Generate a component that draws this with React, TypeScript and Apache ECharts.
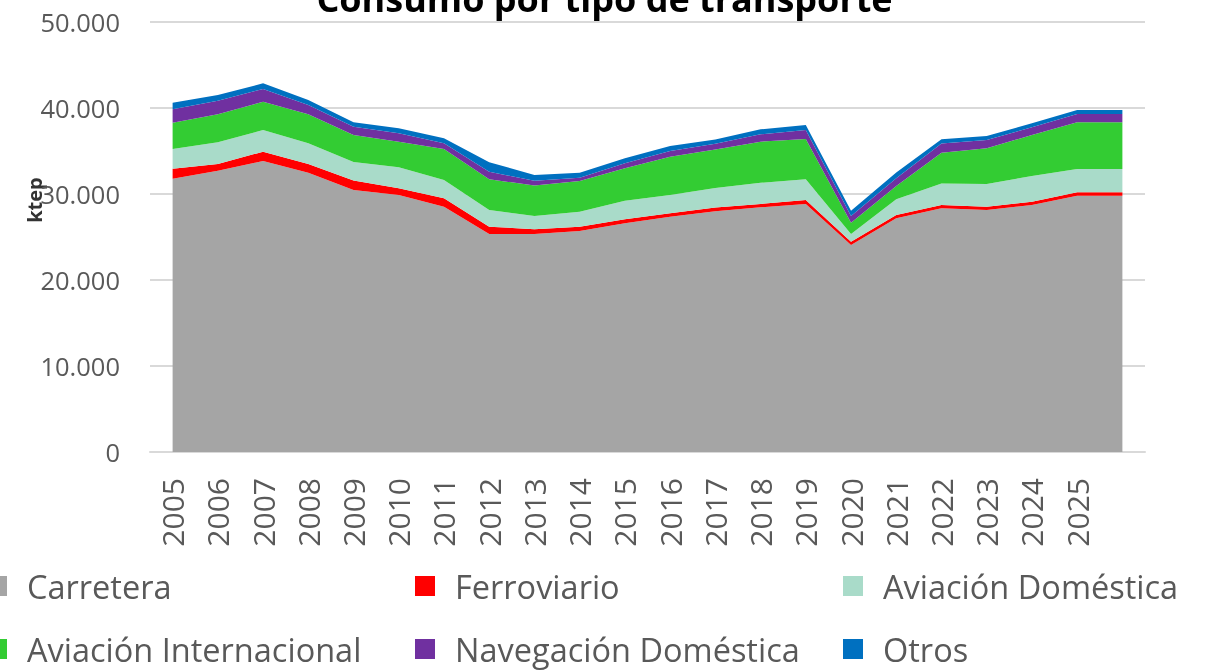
import React, { useEffect, useRef } from 'react';
import * as echarts from 'echarts';

const categories = ['2005', '2006', '2007', '2008', '2009', '2010', '2011', '2012', '2013', '2014', '2015', '2016', '2017', '2018', '2019', '2020', '2021', '2022', '2023', '2024', '2025', ''];

const carretera = [31780, 32710, 33840, 32480, 30470, 29880, 28520, 25350, 25350, 25700, 26590, 27360, 27990, 28450, 28840, 24070, 27170, 28340, 28140, 28720, 29800, 29800];
const ferroviario = [1160, 780, 1080, 1010, 1100, 780, 980, 850, 560, 500, 470, 400, 440, 390, 460, 380, 390, 380, 380, 380, 390, 390];
const aviacionDomestica = [2290, 2520, 2520, 2410, 2150, 2440, 2130, 1940, 1530, 1740, 2160, 2120, 2270, 2470, 2410, 900, 1820, 2500, 2640, 2990, 2710, 2710];
const aviacionInternacional = [3060, 3260, 3290, 3370, 3140, 2980, 3600, 3570, 3550, 3570, 3770, 4460, 4460, 4770, 4690, 1310, 1550, 3580, 4150, 4770, 5430, 5430];
const navegacionDomestica = [1560, 1580, 1480, 1080, 970, 980, 670, 880, 540, 390, 580, 660, 690, 860, 1040, 780, 900, 1070, 970, 900, 970, 970];
const otros = [770, 660, 660, 580, 510, 580, 580, 1100, 680, 580, 580, 580, 490, 580, 580, 620, 670, 490, 460, 470, 470, 470];

const seriesNames = ['Carretera', 'Ferroviario', 'Aviación Doméstica', 'Aviación Internacional', 'Navegación Doméstica', 'Otros'];
const seriesColors = ['#a5a5a5', '#ff0000', '#a9dbc9', '#33cc33', '#7030a0', '#0070c0'];
const seriesData = [carretera, ferroviario, aviacionDomestica, aviacionInternacional, navegacionDomestica, otros];

const yTicks = { min: 0, max: 50000, interval: 10000 };
const titleText = 'Consumo por tipo de transporte';
const yUnit = 'ktep';

export default function App() {
  const ref = useRef<HTMLDivElement>(null);
  useEffect(() => {
    const chart = echarts.init(ref.current!, null, { renderer: 'svg' });
    const font = "'Open Sans', sans-serif";
    const legendPos = [
      { left: -13, top: 568 },
      { left: 415, top: 568 },
      { left: 843, top: 568 },
      { left: -13, top: 631 },
      { left: 415, top: 631 },
      { left: 843, top: 631 },
    ];
    chart.setOption({
      animation: false,
      title: {
        text: titleText,
        left: 'center',
        top: -25,
        textStyle: { fontSize: 36, fontWeight: 'bold', color: '#000000', fontFamily: font },
      },
      grid: { left: 150, right: 64, top: 22, bottom: 218, containLabel: false },
      legend: seriesNames.map((n, k) => ({
        data: [n],
        left: legendPos[k].left,
        top: legendPos[k].top,
        padding: 0,
        itemWidth: 20,
        itemHeight: 20,
        icon: 'rect',
        selectedMode: false,
        textStyle: { fontSize: 32.5, fontFamily: font, color: '#595959', lineHeight: 36, padding: [0, 0, 0, 15] },
      })),
      xAxis: {
        type: 'category',
        data: categories,
        boundaryGap: true,
        axisLine: { lineStyle: { color: '#d9d9d9', width: 2 } },
        axisTick: { show: false },
        axisLabel: { rotate: 90, interval: 0, fontSize: 30, color: '#595959', margin: 26, fontFamily: font },
      },
      yAxis: {
        type: 'value',
        min: yTicks.min,
        max: yTicks.max,
        interval: yTicks.interval,
        axisLine: { show: false },
        axisTick: { show: false },
        splitLine: { lineStyle: { color: '#d9d9d9', width: 2 } },
        axisLabel: {
          fontSize: 25.5,
          color: '#595959',
          margin: 30,
          fontFamily: font,
          formatter: (v: number) => String(v).replace(/\B(?=(\d{3})+(?!\d))/g, '.'),
        },
      },
      graphic: [
        {
          type: 'text',
          x: 34,
          y: 200,
          rotation: Math.PI / 2,
          style: {
            text: yUnit,
            fontSize: 20,
            fontWeight: 'bold',
            fontFamily: font,
            fill: '#333333',
            align: 'center',
            verticalAlign: 'middle',
            textAlign: 'center',
            textVerticalAlign: 'middle',
          },
        },
      ],
      series: seriesNames.map((n, k) => ({
        name: n,
        type: 'line',
        stack: 'total',
        data: seriesData[k],
        symbol: 'none',
        lineStyle: { width: 0 },
        itemStyle: { color: seriesColors[k] },
        areaStyle: { color: seriesColors[k], opacity: 1 },
        emphasis: { disabled: true },
      })),
    });
    return () => chart.dispose();
  }, []);
  return <div ref={ref} style={{ position: 'fixed', left: 0, top: 0, width: 1209, height: 670 }} />;
}
